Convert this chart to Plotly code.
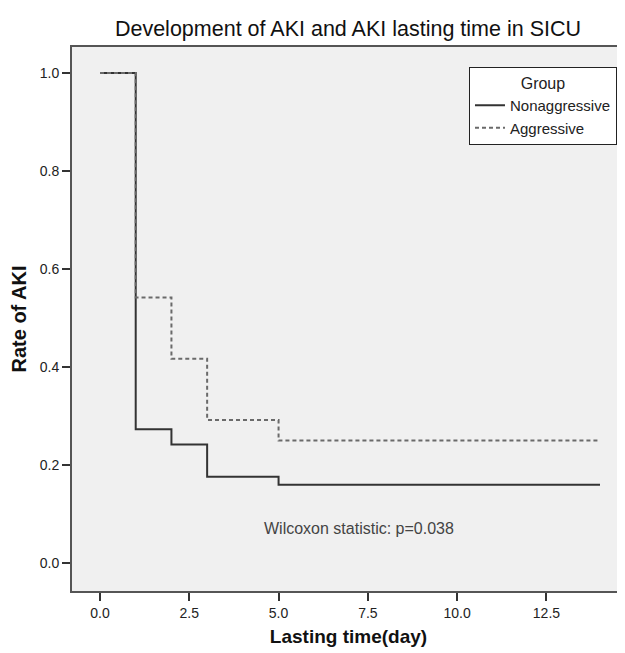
import plotly.graph_objects as go

# Data
days_non = [0, 1, 2, 3, 5, 14]
rate_non = [1.0, 0.273, 0.242, 0.176, 0.160, 0.160]
days_agg = [0, 1, 2, 3, 5, 14]
rate_agg = [1.0, 0.542, 0.417, 0.292, 0.250, 0.250]
group_names = ["Nonaggressive", "Aggressive"]
x_ticks = [0.0, 2.5, 5.0, 7.5, 10.0, 12.5]
y_ticks = [0.0, 0.2, 0.4, 0.6, 0.8, 1.0]

FONT = "Liberation Sans, Arial, sans-serif"

fig = go.Figure()
fig.add_trace(go.Scatter(x=days_non, y=rate_non, mode="lines", name=group_names[0],
                         line=dict(shape="hv", color="#333333", width=2)))
fig.add_trace(go.Scatter(x=days_agg, y=rate_agg, mode="lines", name=group_names[1],
                         line=dict(shape="hv", color="#6a6a6a", width=2, dash="4px,3px")))

# the page body has an 8px margin, so the figure is sized to fill the rest of the window
fig.update_layout(
    width=617, height=645,
    margin=dict(l=64, r=0, t=39, b=62),
    paper_bgcolor="white",
    plot_bgcolor="#f0f0f0",
    font=dict(family=FONT, color="#222222", size=14),
    title=dict(text="Development of AKI and AKI lasting time in SICU",
               x=0.551, xanchor="center", y=0.969, yanchor="middle",
               font=dict(size=21.5, color="#111111", family=FONT)),
    showlegend=True,
    legend=dict(
        title=dict(text="Group", side="top center", font=dict(size=16, color="#222", family=FONT)),
        x=0.9855, xanchor="right", y=0.963, yanchor="top",
        bgcolor="white", bordercolor="#222222", borderwidth=1,
        font=dict(size=15, color="#222", family=FONT),
        itemwidth=30, tracegroupgap=0,
    ),
    xaxis=dict(
        range=[-0.784, 14.7], tickvals=x_ticks, tickformat=".1f",
        ticks="outside", ticklen=8, tickwidth=1.5, tickcolor="#333",
        showgrid=False, zeroline=False, automargin=False,
        showline=True, linecolor="#555", linewidth=2, mirror=True,
        title=dict(text="<b>Lasting time(day)</b>", font=dict(size=19, color="#111"), standoff=10),
        tickfont=dict(size=14, color="#222"),
    ),
    yaxis=dict(
        range=[-0.057, 1.053], tickvals=y_ticks, tickformat=".1f",
        ticks="outside", ticklen=8, tickwidth=1.5, tickcolor="#333",
        showgrid=False, zeroline=False, automargin=False,
        showline=True, linecolor="#555", linewidth=2, mirror=True,
        title=dict(text="<b>Rate of AKI</b>", font=dict(size=20, color="#111"), standoff=10),
        tickfont=dict(size=14, color="#222"),
    ),
)

fig.add_annotation(x=7.24, y=0.071, xref="x", yref="y",
                   text="Wilcoxon statistic: p=0.038", showarrow=False,
                   font=dict(size=16, color="#444444", family=FONT))

fig.write_html("out.html")
